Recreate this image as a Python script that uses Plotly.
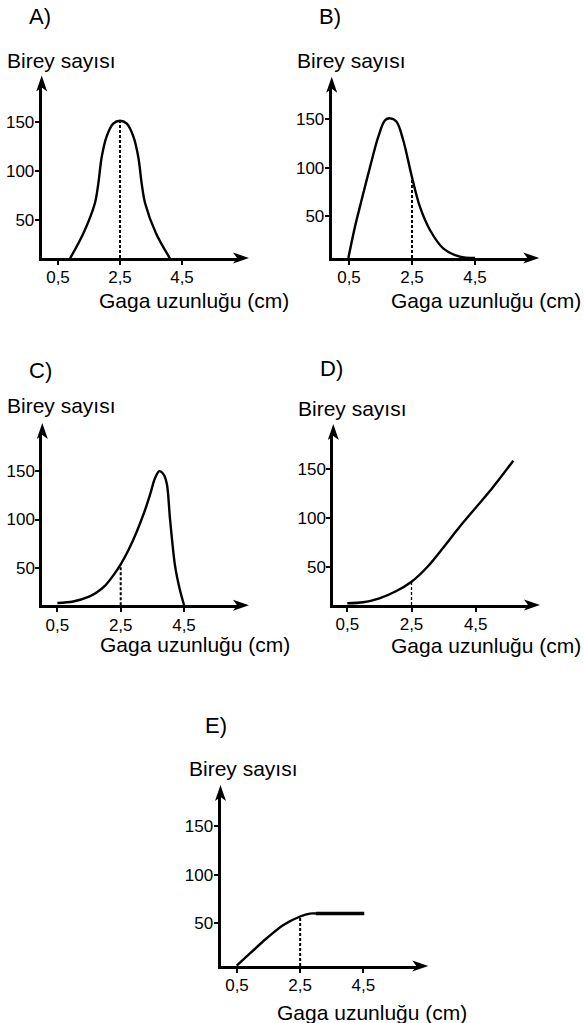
import plotly.graph_objects as go

W, H = 584, 1023
FONT = "Liberation Sans, Arial, sans-serif"

# ---------------- data ----------------
x_tick_vals = [0.5, 2.5, 4.5]
x_tick_text = ["0,5", "2,5", "4,5"]
y_tick_vals = [50, 100, 150]
y_tick_text = ["50", "100", "150"]

A_x = [0.89, 1.32, 1.69, 1.80, 1.91, 2.07, 2.28, 2.5, 2.72, 2.93, 3.09, 3.2, 3.31, 3.66, 4.11]
A_y = [11, 36.5, 67, 87, 114, 135, 148, 151, 148, 135, 114, 87, 67, 36.5, 11]

B_x = [0.48, 0.69, 0.90, 1.17, 1.43, 1.64, 1.80, 2.01, 2.22, 2.5, 2.75, 3.07, 3.49, 4.02, 4.5]
B_y = [6.6, 39, 66.5, 101, 132, 149, 151, 147.5, 128.6, 90, 59.6, 35.5, 16.6, 7.9, 6.6]

C_x = [0.5, 1.0, 1.5, 1.75, 2.0, 2.25, 2.5, 2.75, 3.0, 3.25, 3.45, 3.58, 3.72, 3.86, 3.96,
       4.06, 4.22, 4.37, 4.5]
C_y = [14.5, 16, 21, 25.5, 32, 42, 54, 69, 87, 108, 128, 142, 149.5, 146, 136,
       100, 52, 28, 12.4]

D_x = [0.5, 1.0, 1.5, 2.0, 2.5, 3.0, 3.5, 4.0, 4.5, 5.0, 5.67]
D_y = [12.4, 13.5, 17.5, 24.5, 34.6, 50, 70, 91, 110.5, 130, 158.8]

E_x = [0.49, 0.91, 1.44, 1.97, 2.5, 2.81, 3.0]
E_y = [6.5, 19, 34.6, 48.3, 57, 60, 60]
E_flat_x = [3.0, 4.53]
E_flat_y = [60, 60]

marker_x = 2.5

panel_names = ["A)", "B)", "C)", "D)", "E)"]
y_title = "Birey sayısı"
x_title = "Gaga uzunluğu (cm)"

# ---------------- layout geometry (pixels) ----------------
geo = [
    dict(axx=41.7, axy=258, xtip=249, ytip=75.5, px05=58, px45=182, py50=220, py150=121.7,
         letter=(29.3, 16.7), ylab=(7.3, 60.8), xlab=(99.3, 300.8), dot_w=2.0),
    dict(axx=331.7, axy=258, xtip=539.3, ytip=76.7, px05=349, px45=475, py50=216, py150=119.3,
         letter=(318.5, 16.7), ylab=(297.3, 60.8), xlab=(391, 300.8), dot_w=2.0),
    dict(axx=42.3, axy=605.3, xtip=249, ytip=423, px05=57.4, px45=184, py50=568.3, py150=470.7,
         letter=(29.3, 370), ylab=(7.3, 405.8), xlab=(100, 644.2), dot_w=2.0),
    dict(axx=333.3, axy=605, xtip=540, ytip=424, px05=347.3, px45=475.7, py50=566.7, py150=469.3,
         letter=(320, 368.7), ylab=(298.3, 408.8), xlab=(391, 645.8), dot_w=1.3),
    dict(axx=220.5, axy=966, xtip=428.3, ytip=785, px05=237, px45=363.3, py50=923.3, py150=826,
         letter=(205, 725.8), ylab=(189.3, 768.8), xlab=(276.7, 1012.5), dot_w=2.0),
]

curves = [(A_x, A_y), (B_x, B_y), (C_x, C_y), (D_x, D_y), (E_x, E_y)]

fig = go.Figure()
shapes = []
annotations = []
layout_axes = {}

for i, (g, (cx, cy), name) in enumerate(zip(geo, curves, panel_names), start=1):
    kx = (g["px45"] - g["px05"]) / 4.0
    ky = (g["py50"] - g["py150"]) / 100.0
    xend = g["xtip"] - 9
    yend = g["ytip"] + 9
    xr0 = 0.5 - (g["px05"] - g["axx"]) / kx
    xr1 = 0.5 + (xend - g["px05"]) / kx
    yr0 = 50 - (g["axy"] - g["py50"]) / ky
    yr1 = 150 + (g["py150"] - yend) / ky

    xa = "x" if i == 1 else f"x{i}"
    ya = "y" if i == 1 else f"y{i}"
    common = dict(showline=True, linewidth=3, linecolor="black", ticks="outside",
                  ticklen=4, tickwidth=2, tickcolor="black", showgrid=False,
                  zeroline=False, fixedrange=True,
                  tickfont=dict(family=FONT, size=17, color="black"))
    layout_axes["xaxis" if i == 1 else f"xaxis{i}"] = dict(
        common, domain=[g["axx"] / W, xend / W], range=[xr0, xr1],
        anchor=ya, tickvals=x_tick_vals, ticktext=x_tick_text, ticklabelstandoff=-2)
    layout_axes["yaxis" if i == 1 else f"yaxis{i}"] = dict(
        common, domain=[1 - g["axy"] / H, 1 - yend / H], range=[yr0, yr1],
        anchor=xa, tickvals=y_tick_vals, ticktext=y_tick_text, ticklabelstandoff=-3)

    # curve
    fig.add_trace(go.Scatter(x=cx, y=cy, mode="lines", xaxis=xa, yaxis=ya,
                             line=dict(color="black", width=2.4, shape="spline", smoothing=0.9),
                             hoverinfo="skip", showlegend=False, cliponaxis=False))
    # dotted marker at 2.5
    top = dict(zip(cx, cy))[marker_x]
    fig.add_trace(go.Scatter(x=[marker_x, marker_x], y=[yr0, top], mode="lines",
                             xaxis=xa, yaxis=ya,
                             line=dict(color="black", width=g["dot_w"], dash="3px,2px"),
                             hoverinfo="skip", showlegend=False))
    if i == 5:
        fig.add_trace(go.Scatter(x=E_flat_x, y=E_flat_y, mode="lines", xaxis=xa, yaxis=ya,
                                 line=dict(color="black", width=3.6),
                                 hoverinfo="skip", showlegend=False, cliponaxis=False))

    # arrowheads
    shapes.append(dict(type="path", xref="paper", yref="paper", xsizemode="pixel",
                       ysizemode="pixel", xanchor=g["xtip"] / W, yanchor=1 - g["axy"] / H,
                       path="M0,0 L-16,5.5 L-12,0 L-16,-5.5 Z", fillcolor="black",
                       line=dict(width=0)))
    shapes.append(dict(type="path", xref="paper", yref="paper", xsizemode="pixel",
                       ysizemode="pixel", xanchor=g["axx"] / W, yanchor=1 - g["ytip"] / H,
                       path="M0,0 L5.5,-16 L0,-12 L-5.5,-16 Z", fillcolor="black",
                       line=dict(width=0)))

    for (txt, (lx, ly), size) in [(name, g["letter"], 22), (y_title, g["ylab"], 21),
                                  (x_title, g["xlab"], 21)]:
        annotations.append(dict(text=txt, xref="paper", yref="paper", x=lx / W, y=1 - ly / H,
                                xanchor="left", yanchor="middle", showarrow=False,
                                xshift=-2, font=dict(family=FONT, size=size, color="black")))

fig.update_layout(width=W, height=H, margin=dict(l=0, r=0, t=0, b=0),
                  paper_bgcolor="white", plot_bgcolor="rgba(0,0,0,0)",
                  shapes=shapes, annotations=annotations, showlegend=False,
                  **layout_axes)

fig.write_html("out.html", config={"displayModeBar": False},
               post_script="document.body.style.margin='0';document.body.style.overflow='hidden';")
